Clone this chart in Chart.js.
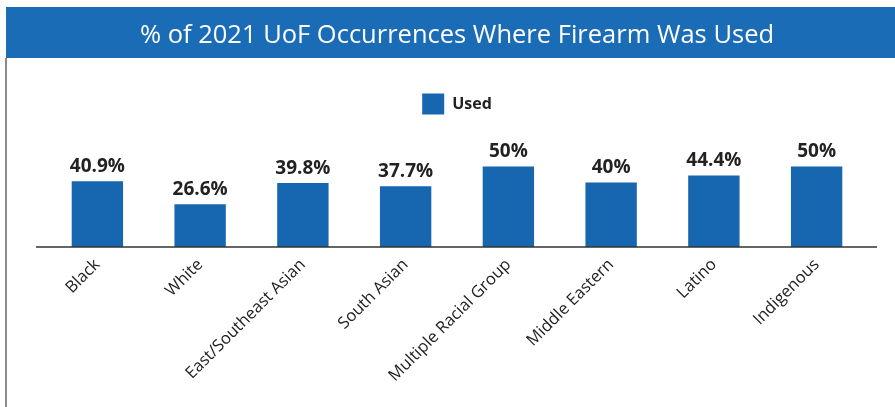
<!DOCTYPE html>
<html>
<head>
<meta charset="utf-8">
<script src="https://cdn.jsdelivr.net/npm/chart.js@4.4.1/dist/chart.umd.min.js"></script>
<style>
  html, body { margin: 0; padding: 0; background: #fff; }
  #wrap { width: 895px; height: 407px; }
</style>
</head>
<body>
<div id="wrap"><canvas id="bar"></canvas></div>
<script>
var categories = ["Black", "White", "East/Southeast Asian", "South Asian", "Multiple Racial Group", "Middle Eastern", "Latino", "Indigenous"];
var usedPct = [40.9, 26.6, 39.8, 37.7, 50, 40, 44.4, 50];
var seriesName = "Used";
var chartTitle = "% of 2021 UoF Occurrences Where Firearm Was Used";

var blue = "#1666b0";
var bannerBlue = "#1b6cb7";
var ink = "#222222";

// blue band behind the title + thin frame line on the left
var frame = {
  id: "frame",
  beforeDraw: function (chart) {
    var ctx = chart.ctx;
    ctx.save();
    ctx.fillStyle = bannerBlue;
    ctx.fillRect(6, 7, chart.width - 6, 51);
    ctx.fillStyle = "#8a8a8a";
    ctx.fillRect(5, 58, 2, chart.height - 58);
    ctx.restore();
  }
};

// baseline runs a little past the outer bars
var baseline = {
  id: "baseline",
  afterDatasetsDraw: function (chart) {
    var ctx = chart.ctx;
    var area = chart.chartArea;
    var y = chart.scales.y.getPixelForValue(0);
    ctx.save();
    ctx.strokeStyle = "#333333";
    ctx.lineWidth = 1.5;
    ctx.beginPath();
    ctx.moveTo(area.left - 10, y);
    ctx.lineTo(area.right + 9, y);
    ctx.stroke();
    ctx.restore();
  }
};

// percentage above each bar
var valueLabels = {
  id: "valueLabels",
  afterDatasetsDraw: function (chart) {
    var ctx = chart.ctx;
    var meta = chart.getDatasetMeta(0);
    ctx.save();
    ctx.fillStyle = ink;
    ctx.font = "bold 19px 'Open Sans'";
    ctx.textAlign = "center";
    ctx.textBaseline = "bottom";
    meta.data.forEach(function (bar, i) {
      ctx.fillText(usedPct[i] + "%", bar.x, bar.y - 5);
    });
    ctx.restore();
  }
};

var ctx = document.getElementById("bar").getContext("2d");
new Chart(ctx, {
  type: "bar",
  data: {
    labels: categories,
    datasets: [
      {
        label: seriesName,
        data: usedPct,
        backgroundColor: blue,
        borderWidth: 0,
        barPercentage: 0.5,
        categoryPercentage: 1.0
      }
    ]
  },
  options: {
    responsive: true,
    maintainAspectRatio: false,
    animation: false,
    layout: {
      padding: { left: 46, right: 27, top: 0, bottom: 0 }
    },
    plugins: {
      title: {
        display: true,
        text: chartTitle,
        color: "#ffffff",
        font: { family: "Open Sans", size: 25.5, weight: "normal" },
        padding: { top: 20, bottom: 33 }
      },
      legend: {
        display: true,
        position: "top",
        labels: {
          boxWidth: 22,
          boxHeight: 21,
          color: ink,
          font: { family: "Open Sans", size: 16, weight: "bold" },
          padding: 10
        }
      },
      tooltip: { enabled: false }
    },
    scales: {
      x: {
        grid: { display: false },
        border: { display: false },
        ticks: {
          color: ink,
          minRotation: 45,
          maxRotation: 45,
          padding: 0,
          font: { family: "Open Sans", size: 16.5 }
        },
        // leave white space under the slanted labels
        afterFit: function (scale) {
          scale.height = 160;
        }
      },
      y: {
        display: false,
        min: 0,
        max: 76
      }
    }
  },
  plugins: [frame, baseline, valueLabels]
});
</script>
</body>
</html>
